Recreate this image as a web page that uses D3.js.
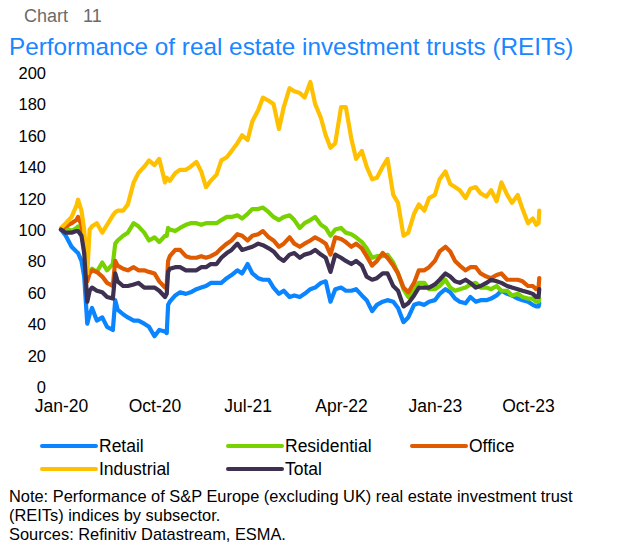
<!DOCTYPE html>
<html>
<head>
<meta charset="utf-8">
<script src="https://cdn.jsdelivr.net/npm/d3@7"></script>
<style>
  body { margin: 0; background: #fff; }
  svg { display: block; font-family: "Liberation Sans", Arial, sans-serif; }
</style>
</head>
<body>
<svg id="chart" width="619" height="547"></svg>
<script>
var W = 619, H = 547;

// half-monthly readings, a few extra dates around the big moves
var dates = [
  "2020-01-01","2020-01-15","2020-02-01","2020-02-15","2020-02-20","2020-03-01","2020-03-09","2020-03-18","2020-03-25","2020-04-01",
  "2020-04-15","2020-05-01","2020-05-15","2020-06-01","2020-06-08","2020-06-15","2020-07-01","2020-07-15","2020-08-01","2020-08-15",
  "2020-09-01","2020-09-15","2020-10-01","2020-10-15","2020-11-01","2020-11-06","2020-11-10","2020-11-15","2020-12-01","2020-12-15",
  "2021-01-01","2021-01-15","2021-02-01","2021-02-15","2021-03-01","2021-03-15","2021-04-01","2021-04-15","2021-05-01","2021-05-15",
  "2021-06-01","2021-06-15","2021-07-01","2021-07-15","2021-08-01","2021-08-15","2021-09-01","2021-09-15","2021-10-01","2021-10-15",
  "2021-11-01","2021-11-15","2021-12-01","2021-12-15",
  "2022-01-01","2022-01-15","2022-02-01","2022-02-15","2022-03-01","2022-03-15","2022-04-01","2022-04-15","2022-05-01","2022-05-15",
  "2022-06-01","2022-06-15","2022-07-01","2022-07-15","2022-08-01","2022-08-15","2022-09-01","2022-09-15","2022-10-01","2022-10-15",
  "2022-11-01","2022-11-15","2022-12-01","2022-12-15",
  "2023-01-01","2023-01-15","2023-02-01","2023-02-15","2023-03-01","2023-03-15","2023-04-01","2023-04-15","2023-05-01","2023-05-15",
  "2023-06-01","2023-06-15","2023-07-01","2023-07-15","2023-08-01","2023-08-15","2023-09-01","2023-09-15","2023-10-01","2023-10-15",
  "2023-10-25","2023-11-01","2023-11-03"
];

var retail = [
  100, 96, 89, 86, 85, 80, 70, 40, 46, 50, 42, 44, 38, 36, 55, 49, 46, 44, 42, 42, 40, 38, 32, 36, 35, 34, 52, 54, 58, 60,
  59, 60, 62, 63, 64, 66, 66, 66, 69, 71, 74, 72, 78, 72, 69, 68, 68, 63, 59, 61, 57, 58, 57, 59,
  62, 63, 66, 67, 54, 62, 63, 61, 61, 62, 58, 55, 48, 52, 54, 55, 54, 50, 41, 44, 52, 53, 52, 54,
  55, 59, 62, 60, 56, 54, 53, 57, 54, 55, 55, 56, 58, 61, 59, 58, 56, 55, 54, 52, 51, 51, 53
];
var residential = [
  100, 101, 99, 101, 102, 97, 90, 70, 73, 75, 73, 79, 74, 78, 91, 93, 96, 98, 104, 102, 98, 93, 95, 92, 96, 96, 101, 100, 99, 101,
  103, 104, 104, 103, 104, 104, 104, 106, 108, 108, 109, 107, 110, 113, 113, 114, 111, 108, 106, 108, 109, 106, 101, 104,
  106, 108, 103, 101, 96, 100, 101, 98, 97, 95, 92, 88, 82, 83, 83, 84, 79, 72, 62, 57, 61, 66, 66, 62,
  62, 64, 68, 63, 61, 62, 63, 65, 66, 63, 63, 62, 64, 61, 61, 58, 59, 57, 56, 56, 54, 54, 56
];
var office = [
  100, 102, 104, 106, 108, 103, 92, 67, 72, 74, 73, 70, 66, 64, 80, 77, 75, 74, 76, 74, 74, 73, 72, 67, 63, 65, 80, 83, 87, 87,
  83, 82, 82, 83, 82, 83, 85, 88, 91, 93, 97, 96, 93, 96, 97, 99, 95, 93, 89, 91, 95, 91, 89, 91,
  93, 95, 93, 91, 84, 95, 94, 92, 89, 91, 88, 83, 77, 80, 85, 82, 77, 72, 63, 60, 66, 74, 74, 76,
  80, 86, 89, 86, 80, 77, 74, 76, 76, 72, 70, 69, 71, 72, 68, 68, 68, 67, 64, 64, 62, 63, 69
];
var industrial = [
  101, 104, 108, 115, 119, 112, 100, 72, 100, 102, 104, 98, 103, 109, 111, 112, 112, 116, 130, 136, 140, 144, 141, 145, 130, 133, 132, 131, 136, 138,
  138, 140, 143, 137, 127, 131, 135, 144, 146, 150, 155, 160, 157, 169, 176, 184, 182, 180, 164, 178, 190, 188, 187, 184,
  194, 180, 171, 160, 152, 155, 178, 178, 158, 145, 150, 140, 132, 133, 140, 145, 122, 117, 96, 98, 110, 116, 112, 120,
  122, 132, 137, 129, 127, 125, 120, 126, 127, 123, 121, 125, 118, 130, 122, 117, 122, 113, 104, 107, 103, 104, 112
];
var total = [
  100, 98, 98, 99, 99, 96, 85, 54, 61, 63, 61, 60, 57, 56, 72, 67, 64, 64, 65, 66, 63, 63, 63, 61, 57, 59, 73, 75, 76, 76,
  74, 74, 74, 76, 76, 78, 78, 82, 85, 87, 91, 87, 88, 89, 91, 90, 88, 86, 82, 80, 84, 85, 82, 84,
  85, 87, 84, 82, 73, 84, 82, 80, 78, 80, 77, 70, 68, 69, 72, 72, 64, 61, 51, 53, 58, 63, 63, 63,
  65, 68, 72, 70, 67, 66, 68, 66, 63, 64, 66, 68, 67, 66, 64, 63, 62, 61, 60, 59, 57, 57, 62
];

var seriesNames = ["Retail", "Residential", "Office", "Industrial", "Total"];
var seriesColors = ["#0a84ff", "#77d200", "#e05a00", "#ffc000", "#3d3050"];
var seriesValues = [retail, residential, office, industrial, total];

var yTicks = [0, 20, 40, 60, 80, 100, 120, 140, 160, 180, 200];
var xTicks = ["2020-01-01", "2020-10-01", "2021-07-01", "2022-04-01", "2023-01-01", "2023-10-01"];

var parse = d3.timeParse("%Y-%m-%d");
var svg = d3.select("#chart");

var x = d3.scaleTime()
    .domain([parse("2020-01-01"), parse("2023-10-01")])
    .range([61, 528]);
var y = d3.scaleLinear()
    .domain([0, 200])
    .range([386.5, 72.5]);

// header
svg.append("text")
    .attr("x", 24).attr("y", 22)
    .attr("fill", "#6b6b6b")
    .style("font-size", "18px")
    .text("Chart\u00a0\u00a0 11");

svg.append("text")
    .attr("x", 9).attr("y", 55)
    .attr("fill", "#1a86ff")
    .style("font-size", "24.3px")
    .text("Performance of real estate investment trusts (REITs)");

// y axis labels only, no lines
var yAxis = svg.append("g")
    .attr("transform", "translate(46,0)")
    .call(d3.axisLeft(y).tickValues(yTicks).tickSize(0).tickPadding(0));
yAxis.select(".domain").remove();
yAxis.selectAll("text")
    .attr("fill", "#000")
    .attr("dy", "0.36em")
    .style("font-size", "16.5px")
    .style("font-family", "'Liberation Sans', Arial, sans-serif");

var xAxis = svg.append("g")
    .attr("transform", "translate(0,400)")
    .call(d3.axisBottom(x).tickValues(xTicks.map(parse)).tickFormat(d3.timeFormat("%b-%y")).tickSize(0).tickPadding(0));
xAxis.select(".domain").remove();
xAxis.selectAll("text")
    .attr("fill", "#000")
    .attr("dy", "0.71em")
    .style("font-size", "17.5px")
    .style("font-family", "'Liberation Sans', Arial, sans-serif");

// the lines, drawn in legend order so Total ends on top
var line = d3.line()
    .x(function (d, i) { return x(parse(dates[i])); })
    .y(function (d) { return y(d); });

svg.append("g").selectAll("path")
    .data(seriesValues)
    .enter().append("path")
    .attr("d", line)
    .attr("fill", "none")
    .attr("stroke", function (d, i) { return seriesColors[i]; })
    .attr("stroke-width", 4.2)
    .attr("stroke-linejoin", "round")
    .attr("stroke-linecap", "round");

// legend: 3 columns, 2 rows
var legendCols = [42, 228, 412];
var legend = svg.append("g").selectAll("g")
    .data(seriesNames)
    .enter().append("g")
    .attr("transform", function (d, i) {
        return "translate(" + legendCols[i % 3] + "," + (446 + Math.floor(i / 3) * 23) + ")";
    });
legend.append("line")
    .attr("x1", 0).attr("x2", 54)
    .attr("stroke", function (d, i) { return seriesColors[i]; })
    .attr("stroke-width", 4)
    .attr("stroke-linecap", "round");
legend.append("text")
    .attr("x", 57).attr("dy", "0.36em")
    .style("font-size", "17.5px")
    .text(function (d) { return d; });

// notes
var notes = [
  "Note: Performance of S&P Europe (excluding UK) real estate investment trust",
  "(REITs) indices by subsector.",
  "Sources: Refinitiv Datastream, ESMA."
];
svg.append("g").selectAll("text")
    .data(notes)
    .enter().append("text")
    .attr("x", 9)
    .attr("y", function (d, i) { return 502 + i * 19; })
    .style("font-size", "16.4px")
    .text(function (d) { return d; });
</script>
</body>
</html>
